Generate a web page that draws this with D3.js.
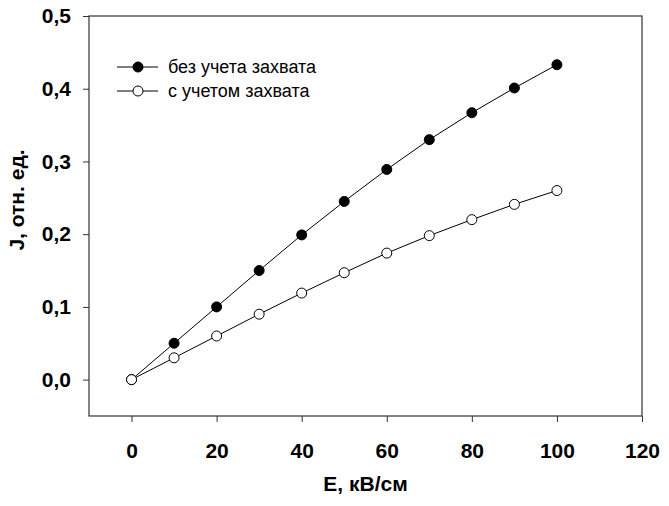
<!DOCTYPE html>
<html>
<head>
<meta charset="utf-8">
<script src="https://cdn.jsdelivr.net/npm/d3@7"></script>
<style>
  body { margin: 0; background: #fff; }
  svg { display: block; font-family: "Liberation Sans", Arial, sans-serif; }
</style>
</head>
<body>
<svg id="chart" width="669" height="506"></svg>
<script>
// Field strength, kV/cm
const fieldE = [0, 10, 20, 30, 40, 50, 60, 70, 80, 90, 100];
// Relative current without trapping
const noTrap = [0, 0.05, 0.10, 0.15, 0.199, 0.245, 0.289, 0.330, 0.367, 0.401, 0.433];
// Relative current with trapping
const withTrap = [0, 0.03, 0.06, 0.09, 0.119, 0.147, 0.174, 0.198, 0.220, 0.241, 0.260];
const xTicks = [0, 20, 40, 60, 80, 100, 120];
const yTicks = [0, 0.1, 0.2, 0.3, 0.4, 0.5];
const seriesNames = ["без учета захвата", "с учетом захвата"];

const svg = d3.select("#chart");
const L = 89, R = 642, T = 16, B = 416;

const x = d3.scaleLinear().domain([-10, 120]).range([L, R]);
const y = d3.scaleLinear().domain([-0.05, 0.5]).range([B, T]);
const fmt = d => d3.format(".1f")(d).replace(".", ",");

// Frame
svg.append("rect").attr("x", L).attr("y", T).attr("width", R - L).attr("height", B - T)
  .attr("fill", "none").attr("stroke", "#333").attr("stroke-width", 1.2);

// Axes
const xAxis = svg.append("g").attr("transform", `translate(0,${B})`)
  .call(d3.axisBottom(x).tickValues(xTicks).tickSize(6).tickSizeOuter(0).tickPadding(21));
const yAxis = svg.append("g").attr("transform", `translate(${L},0)`)
  .call(d3.axisLeft(y).tickValues(yTicks).tickFormat(fmt).tickSize(6).tickSizeOuter(0).tickPadding(12));
[xAxis, yAxis].forEach(g => {
  g.select(".domain").remove();
  g.selectAll("line").attr("stroke", "#333");
  g.selectAll("text").attr("fill", "#000").style("font-size", "21px").style("font-weight", "bold")
    .style("font-family", "'Liberation Sans', Arial, sans-serif");
});

// Axis titles
svg.append("text").attr("x", (L + R) / 2).attr("y", 491).attr("text-anchor", "middle")
  .style("font-size", "21px").style("font-weight", "bold").text("E, кВ/см");
svg.append("text").attr("transform", "translate(24,200) rotate(-90)")
  .attr("text-anchor", "middle").style("font-size", "21px").style("font-weight", "bold")
  .text("J, отн. ед.");

// Series
const line = d3.line().x((d, i) => x(fieldE[i])).y(d => y(d));
const series = [{ v: noTrap, fill: "#000" }, { v: withTrap, fill: "#fff" }];
series.forEach(s => {
  svg.append("path").attr("d", line(s.v)).attr("fill", "none").attr("stroke", "#000").attr("stroke-width", 1);
});
// Open markers drawn last so they sit on top at the shared origin
series.forEach(s => {
  svg.append("g").selectAll("circle").data(s.v).join("circle")
    .attr("cx", (d, i) => x(fieldE[i])).attr("cy", d => y(d)).attr("r", 5)
    .attr("fill", s.fill).attr("stroke", "#000").attr("stroke-width", 1);
});

// Legend
const leg = svg.append("g");
series.forEach((s, i) => {
  const ly = 67 + i * 24;
  leg.append("line").attr("x1", 117).attr("x2", 158).attr("y1", ly).attr("y2", ly)
    .attr("stroke", "#000").attr("stroke-width", 1);
  leg.append("circle").attr("cx", 138).attr("cy", ly).attr("r", 5)
    .attr("fill", s.fill).attr("stroke", "#000");
  leg.append("text").attr("x", 168).attr("y", ly + 6).style("font-size", "18px")
    .text(seriesNames[i]);
});
</script>
</body>
</html>
